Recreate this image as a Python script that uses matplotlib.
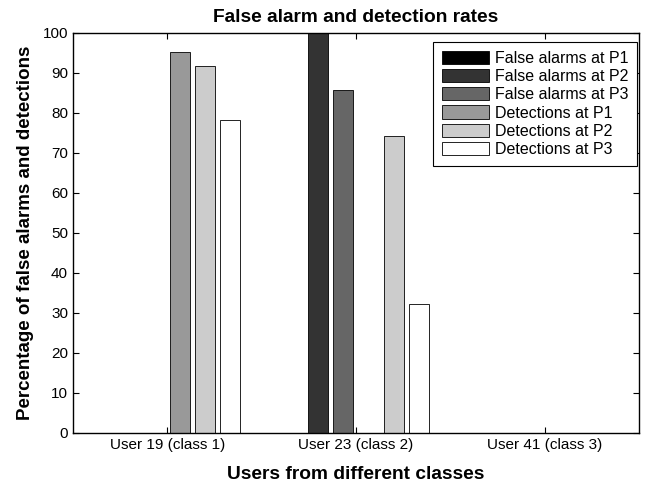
import numpy as np
import matplotlib
matplotlib.use('Agg')
import matplotlib.pyplot as plt

plt.rcParams['font.family'] = ['Liberation Sans', 'DejaVu Sans']

users = ['User 19 (class 1)', 'User 23 (class 2)', 'User 41 (class 3)']
series = ['False alarms at P1', 'False alarms at P2', 'False alarms at P3',
          'Detections at P1', 'Detections at P2', 'Detections at P3']
# one list per series, values per user
fa_p1 = [0, 0, 0]
fa_p2 = [0, 100, 0]
fa_p3 = [0, 85.7, 0]
det_p1 = [95.3, 0, 0]
det_p2 = [91.7, 74.2, 0]
det_p3 = [78.3, 32.2, 0]
values = [fa_p1, fa_p2, fa_p3, det_p1, det_p2, det_p3]
grays = ['0.0', '0.2', '0.4', '0.6', '0.8', '1.0']

fig = plt.figure(figsize=(6.51, 4.87), dpi=100)
ax = fig.add_axes([0.1121, 0.1109, 0.8694, 0.8214])

x = np.arange(1, len(users) + 1)
n = len(series)
slot = 0.8 / n
for i, (name, vals) in enumerate(zip(series, values)):
    off = (i - (n - 1) / 2) * slot
    ax.bar(x + off, vals, width=slot * 0.8, color=grays[i], edgecolor='k',
           linewidth=0.6, label=name)

ax.set_xlim(0.5, 3.5)
ax.set_ylim(0, 100)
ax.set_yticks(range(0, 101, 10))
ax.set_xticks(x)
ax.set_xticklabels(users)
ax.tick_params(direction='in', top=True, right=True, labelsize=11, length=4)
for s in ax.spines.values():
    s.set_linewidth(1.0)

ax.set_title('False alarm and detection rates', fontsize=13.8, fontweight='bold', pad=8)
ax.set_xlabel('Users from different classes', fontsize=13.8, fontweight='bold', labelpad=10)
ax.set_ylabel('Percentage of false alarms and detections', fontsize=13.5,
              fontweight='bold', labelpad=6)

leg = ax.legend(loc='upper right', fontsize=11.5, frameon=True, fancybox=False,
                edgecolor='k', framealpha=1, handlelength=2.95, handleheight=0.88,
                labelspacing=0.2, borderpad=0.55, handletextpad=0.35,
                borderaxespad=0, bbox_to_anchor=(0.9965, 0.9775))
leg.get_frame().set_linewidth(0.8)

fig.savefig('out.png', dpi=100)
